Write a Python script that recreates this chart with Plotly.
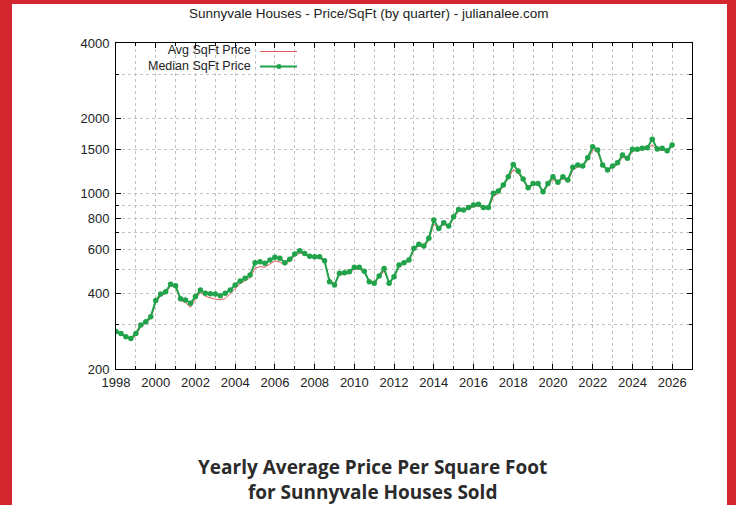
import plotly.graph_objects as go

# Quarterly positions, 1998 Q1 .. 2026 Q1
quarters = [y + q / 4 for y in range(1998, 2026) for q in range(4)] + [2026.0]

median_price = [
    282, 277, 269, 265, 277, 300, 309, 323,
    375, 398, 407, 436, 430, 381, 377, 366,
    389, 413, 401, 399, 398, 392, 401, 413,
    433, 449, 460, 474, 531, 536, 528, 544,
    558, 553, 531, 548, 575, 593, 578, 563,
    561, 561, 541, 446, 433, 482, 484, 489,
    509, 509, 491, 446, 440, 470, 504, 440,
    467, 520, 531, 544, 606, 629, 619, 665,
    786, 728, 767, 744, 811, 867, 862, 883,
    903, 908, 883, 883, 1005, 1026, 1085, 1171,
    1311, 1233, 1147, 1058, 1101, 1101, 1020, 1101,
    1171, 1112, 1171, 1135, 1276, 1303, 1291, 1394,
    1542, 1496, 1303, 1245, 1291, 1331, 1428, 1386,
    1506, 1506, 1520, 1528, 1651, 1510, 1520, 1486,
    1567,
]

avg_price = [
    280, 275, 268, 262, 272, 295, 305, 318,
    368, 392, 400, 430, 425, 375, 368, 352,
    380, 405, 390, 385, 380, 378, 382, 400,
    420, 438, 450, 462, 505, 512, 510, 525,
    540, 535, 520, 540, 565, 580, 575, 560,
    555, 555, 535, 455, 438, 475, 478, 482,
    500, 502, 485, 450, 438, 462, 492, 445,
    462, 512, 525, 540, 598, 620, 612, 655,
    760, 720, 755, 740, 800, 855, 855, 870,
    890, 895, 870, 875, 975, 1005, 1070, 1150,
    1250, 1210, 1130, 1050, 1085, 1090, 1010, 1085,
    1140, 1105, 1150, 1125, 1245, 1280, 1280, 1370,
    1500, 1470, 1290, 1240, 1275, 1310, 1400, 1375,
    1480, 1490, 1505, 1510, 1570, 1490, 1495, 1480,
    1545,
]

x_tick_vals = list(range(1998, 2027, 2))
y_tick_vals = [200, 400, 600, 800, 1000, 1500, 2000, 4000]
y_minor_vals = [300, 500, 700, 900, 3000]

title_text = "Sunnyvale Houses - Price/SqFt (by quarter) - julianalee.com"
legend_labels = ["Avg SqFt Price", "Median SqFt Price"]
caption_lines = ["Yearly Average Price Per Square Foot", "for Sunnyvale Houses Sold"]

GREEN = "#20a34a"
RED = "#e05a5a"
BORDER = "#d4262e"
GRID = "#c2c2c2"
FONT = "Liberation Sans"

W, H = 736, 505
L, R, T, B = 116, 692, 43, 369
PW, PH = R - L, B - T


def px(x):
    return (x - L) / PW


def py(y):
    return (B - y) / PH


fig = go.Figure()
fig.add_trace(go.Scatter(
    x=quarters, y=avg_price, mode="lines",
    line=dict(color=RED, width=1), name=legend_labels[0], showlegend=False,
))
fig.add_trace(go.Scatter(
    x=quarters, y=median_price, mode="lines+markers",
    line=dict(color=GREEN, width=2), marker=dict(color=GREEN, size=5.5, symbol="circle"),
    name=legend_labels[1], showlegend=False,
))

axis_common = dict(
    showline=True, linecolor="#000", linewidth=1, mirror="allticks",
    ticks="inside", ticklen=5, tickcolor="#000",
    showgrid=True, gridcolor=GRID, griddash="dot", gridwidth=1,
    tickfont=dict(family=FONT, size=13, color="#222"), zeroline=False,
)

fig.update_xaxes(
    range=[1998, 2027], tickvals=x_tick_vals, ticktext=[str(v) for v in x_tick_vals],
    minor=dict(dtick=1, tick0=1998, ticks="inside", ticklen=3, tickcolor="#000",
               showgrid=True, gridcolor=GRID, griddash="dot", gridwidth=1),
    ticklabelstandoff=1,
    **axis_common,
)
fig.update_yaxes(
    type="log", range=[2.30103, 3.60206], tickvals=y_tick_vals,
    ticktext=[str(v) for v in y_tick_vals],
    minor=dict(tickvals=y_minor_vals, ticks="inside", ticklen=3, tickcolor="#000",
               showgrid=True, gridcolor=GRID, griddash="dot", gridwidth=1),
    ticklabelstandoff=3,
    **axis_common,
)

LEG_Y1, LEG_Y2 = 51, 66

shapes = [
    # page red borders
    dict(type="rect", xref="paper", yref="paper", x0=px(0), x1=px(12), y0=py(505), y1=py(0),
         fillcolor=BORDER, line=dict(width=0), layer="above"),
    dict(type="rect", xref="paper", yref="paper", x0=px(727), x1=px(736), y0=py(505), y1=py(0),
         fillcolor=BORDER, line=dict(width=0), layer="above"),
    dict(type="rect", xref="paper", yref="paper", x0=px(0), x1=px(736), y0=py(4), y1=py(0),
         fillcolor=BORDER, line=dict(width=0), layer="above"),
    # legend samples
    dict(type="line", xref="paper", yref="paper", x0=px(260), x1=px(297), y0=py(LEG_Y1 + 0.5),
         y1=py(LEG_Y1 + 0.5), line=dict(color=RED, width=1)),
    dict(type="line", xref="paper", yref="paper", x0=px(260), x1=px(297), y0=py(LEG_Y2 + 0.5),
         y1=py(LEG_Y2 + 0.5), line=dict(color=GREEN, width=2)),
    dict(type="circle", xref="paper", yref="paper", x0=px(276.5), x1=px(281.5),
         y0=py(LEG_Y2 + 3), y1=py(LEG_Y2 - 2), fillcolor=GREEN, line=dict(width=0)),
]

annotations = [
    dict(text=title_text, xref="paper", yref="paper", x=px(368), y=py(13),
         xanchor="center", yanchor="middle", showarrow=False,
         font=dict(family=FONT, size=13.5, color="#222")),
    dict(text="<br>".join(legend_labels), xref="paper", yref="paper",
         x=px(253), y=py((LEG_Y1 + LEG_Y2) / 2), align="right",
         xanchor="right", yanchor="middle", showarrow=False,
         font=dict(family=FONT, size=12.5, color="#222")),
    dict(text="<br>".join("<b>" + s + "</b>" for s in caption_lines), xref="paper", yref="paper",
         x=px(372), y=py(479.5), align="center",
         xanchor="center", yanchor="middle", showarrow=False,
         font=dict(family="Open Sans", size=19, color="#2b2b2b")),
]

fig.update_layout(
    width=W, height=H,
    margin=dict(l=L, r=W - R, t=T, b=H - B, pad=0),
    paper_bgcolor="#fff", plot_bgcolor="#fff",
    shapes=shapes, annotations=annotations, showlegend=False,
)

fig.write_html(
    "out.html",
    config={"displayModeBar": False},
    post_script="document.body.style.margin='0';document.body.style.padding='0';"
                "document.documentElement.style.overflow='hidden';",
)
